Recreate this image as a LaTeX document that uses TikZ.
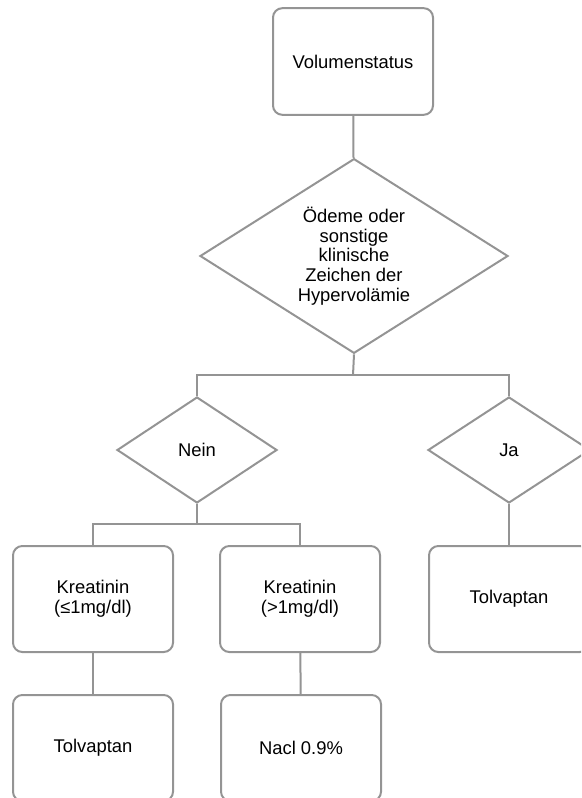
\documentclass[tikz,border=0pt]{standalone}
\usepackage{fontspec}
\setmainfont{Liberation Sans}
\usetikzlibrary{shapes.geometric}

\definecolor{liniengrau}{RGB}{148,148,148}

\tikzset{kasten/.style = {draw = liniengrau, line width = 1.5pt, rounded corners = 7pt,
                          minimum width = 120pt, minimum height = #1,
                          align = center, inner sep = 0pt},
         kasten/.default = 79.5pt,
         raute/.style = {diamond, draw = liniengrau, line width = 1.5pt,
                         minimum width = 120pt, minimum height = #1,
                         aspect = 1.58, align = center, inner sep = 0pt},
         raute/.default = 79.5pt,
         linie/.style = {draw = liniengrau, line width = 1.5pt}
        }

\begin{document}
\begin{tikzpicture}[x = 0.75pt, y = -0.75pt,
                    every node/.style = {font = \fontsize{13.8}{14.8}\selectfont}]
  \clip (0,0) rectangle (581,798);

  \node[kasten = 80pt] (vol) at (353,61.5) {Volumenstatus};
  \node[raute = 146pt, minimum width = 231pt] (frage) at (354,256)
       {Ödeme oder\\sonstige\\klinische\\Zeichen der\\Hypervolämie};
  \node[raute] (nein) at (197,450) {Nein};
  \node[raute, minimum width = 121.5pt] (ja) at (509,450) {Ja};
  \node[kasten] (krea1) at (93,599) {Kreatinin\\(≤1mg/dl)};
  \node[kasten] (krea2) at (300,599) {Kreatinin\\(>1mg/dl)};
  \node[kasten] (tolva2) at (509,599) {Tolvaptan};
  \node[kasten] (tolva1) at (93,748) {Tolvaptan};
  \node[kasten] (nacl) at (301,748) {Nacl 0.9\%};

  \coordinate (gabel1) at (353,375);
  \coordinate (gabel2) at (197,524);

  \draw[linie] (vol) -- (frage);
  \draw[linie] (frage.south) -- (gabel1);
  \draw[linie] (nein.north) |- (gabel1) -| (ja.north);
  \draw[linie] (nein.south) -- (gabel2);
  \draw[linie] (krea1.north) |- (gabel2) -| (krea2.north);
  \draw[linie] (ja) -- (tolva2);
  \draw[linie] (krea1) -- (tolva1);
  \draw[linie] (krea2) -- (nacl);
\end{tikzpicture}
\end{document}
